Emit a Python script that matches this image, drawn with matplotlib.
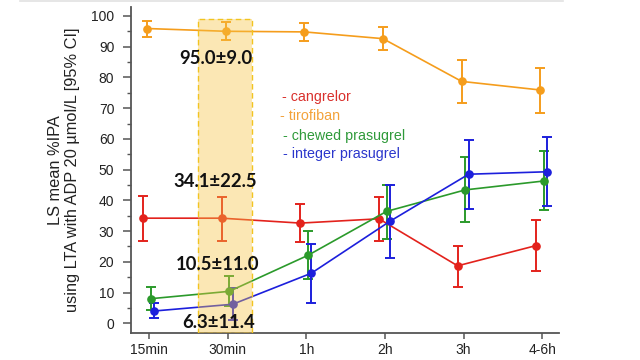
import matplotlib
matplotlib.use("Agg")
import matplotlib.pyplot as plt
from matplotlib.patches import Rectangle
from matplotlib.lines import Line2D

# ---- data ----
timepoints = ["15min", "30min", "1h", "2h", "3h", "4-6h"]
yticks = [0, 10, 20, 30, 40, 50, 60, 70, 80, 90, 100]

tirofiban_mean = [95.9, 95.0, 94.8, 92.6, 78.7, 75.9]
tirofiban_lo = [93.2, 92.1, 91.7, 89.0, 71.7, 68.5]
tirofiban_hi = [98.5, 97.9, 97.7, 96.3, 85.5, 83.2]

cangrelor_mean = [34.2, 34.2, 32.6, 34.0, 18.7, 25.3]
cangrelor_lo = [26.8, 26.8, 26.3, 26.9, 11.9, 17.1]
cangrelor_hi = [41.5, 41.2, 38.9, 41.2, 25.3, 33.6]

chewed_mean = [8.0, 10.4, 22.1, 36.4, 43.4, 46.3]
chewed_lo = [4.3, 5.6, 14.3, 27.4, 33.1, 36.8]
chewed_hi = [11.7, 15.4, 30.1, 45.0, 54.0, 56.1]

integer_mean = [4.0, 6.2, 16.3, 33.2, 48.5, 49.3]
integer_lo = [1.6, 1.0, 6.7, 21.2, 37.1, 38.0]
integer_hi = [6.5, 11.4, 25.8, 45.0, 59.7, 60.7]

series_names = ["cangrelor", "tirofiban", "chewed prasugrel", "integer prasugrel"]
annotations = ["95.0±9.0", "34.1±22.5", "10.5±11.0", "6.3±11.4"]

# ---- styles ----
colors = {"cangrelor": "#e3221c", "tirofiban": "#f59d1c",
          "chewed prasugrel": "#2b9a2b", "integer prasugrel": "#1c1fdc"}
legend_colors = {"cangrelor": "#d9302c", "tirofiban": "#f3a23a",
                 "chewed prasugrel": "#2f9a3a", "integer prasugrel": "#2b36cc"}
offsets = {"cangrelor": -0.076, "tirofiban": -0.025,
           "chewed prasugrel": 0.02, "integer prasugrel": 0.064}

series = {
    "tirofiban": (tirofiban_mean, tirofiban_lo, tirofiban_hi),
    "cangrelor": (cangrelor_mean, cangrelor_lo, cangrelor_hi),
    "chewed prasugrel": (chewed_mean, chewed_lo, chewed_hi),
    "integer prasugrel": (integer_mean, integer_lo, integer_hi),
}

fig = plt.figure(figsize=(6.4, 3.6), dpi=100)
ax = fig.add_axes([131/640, 1-333.3/360, (559-131)/640, (333.3-7)/360])

x = list(range(len(timepoints)))
for name in ["tirofiban", "cangrelor", "chewed prasugrel", "integer prasugrel"]:
    m, lo, hi = series[name]
    xs = [xi + offsets[name] for xi in x]
    yerr = [[mi - l for mi, l in zip(m, lo)], [h - mi for mi, h in zip(m, hi)]]
    ax.errorbar(xs, m, yerr=yerr, color=colors[name], marker="o", ms=5.2,
                lw=1.2, elinewidth=1.4, capsize=3.8, capthick=1.4, zorder=3)

# highlight band
ax.add_patch(Rectangle((0.62, -3.25), 0.694, 99.0 + 3.25, facecolor="#f5c445",
                       alpha=0.4, edgecolor="none", zorder=4))
ax.add_patch(Rectangle((0.62, -3.25), 0.694, 99.0 + 3.25, facecolor="none",
                       edgecolor="#f2c420", lw=1.0, ls=(0, (4, 2.5)), zorder=4))

ann_pos = [(0.848, 86.3), (0.84, 46.0), (0.873, 19.0), (0.89, 0.2)]
for txt, (tx, ty) in zip(annotations, ann_pos):
    ax.text(tx, ty, txt, ha="center", va="center", fontsize=13.3,
            fontweight="bold", family="Lato", color="#111111", zorder=5)

# legend as colored text
leg_y = [96.7, 116, 135.7, 154.3]
leg_x = [281.7, 280, 283, 283]
for name, lx, ly in zip(series_names, leg_x, leg_y):
    fig.text(lx/640, 1-ly/360, "- " + name, color=legend_colors[name],
             fontsize=10.3, family="Liberation Sans", va="center", ha="left")

ax.set_xlim(-0.229, 5.213)
ax.set_ylim(-3.25, 102.9)
ax.set_xticks(x)
ax.set_xticklabels(timepoints)
ax.set_yticks(yticks)
ax.set_yticks([v + 5 for v in yticks[:-1]], minor=True)
for lab in ax.get_xticklabels() + ax.get_yticklabels():
    lab.set_family("Liberation Sans")
    lab.set_fontsize(10)
    lab.set_color("#222222")

for s in ["top", "right"]:
    ax.spines[s].set_visible(False)
for s in ["left", "bottom"]:
    ax.spines[s].set_color("#555555")
    ax.spines[s].set_linewidth(1.3)
ax.tick_params(axis="y", which="major", length=6, width=1.1, color="#555555", pad=6)
ax.tick_params(axis="y", which="minor", length=3, width=1.0, color="#555555")
ax.tick_params(axis="x", which="major", length=4, width=1.1, color="#555555", pad=3)

ax.set_ylabel("LS mean %IPA\nusing LTA with ADP 20 µmol/L [95% CI]",
              fontsize=11.8, family="Liberation Sans", linespacing=1.2,
              color="#222222", labelpad=8)

fig.add_artist(Line2D([20/640, 563/640], [1-1/360, 1-1/360], color="#e2e2e2", lw=1.2))

fig.savefig("out.png", dpi=100)
